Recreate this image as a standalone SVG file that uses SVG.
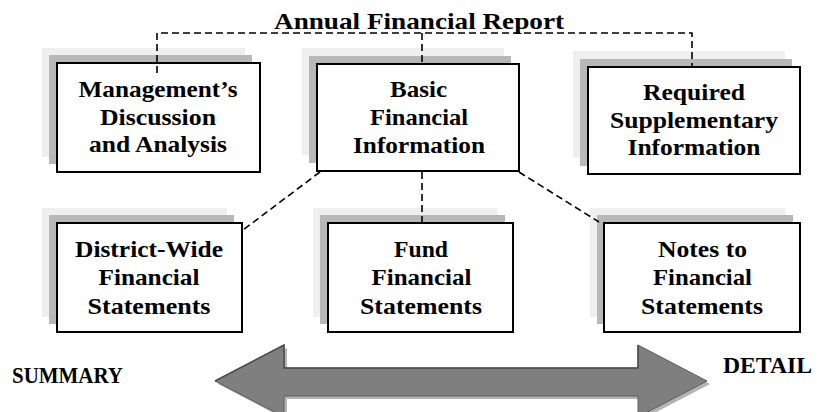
<svg xmlns="http://www.w3.org/2000/svg" width="817" height="412" viewBox="0 0 817 412">
<style>
  .t{font-family:"Liberation Serif","Times New Roman",serif;font-weight:bold;font-size:23px;fill:#000;text-anchor:middle}
  .lbl{font-family:"Liberation Serif","Times New Roman",serif;font-weight:bold;font-size:23px;fill:#000}
  .box{fill:#fff;stroke:#000;stroke-width:2}
  .sh1{fill:#efefef}
  .sh2{fill:#b8b8b8}
  .dash{fill:none;stroke:#000;stroke-width:1.6;stroke-dasharray:7 4}
</style>
<rect width="817" height="412" fill="#fff"/>

<text class="lbl" x="274" y="29" textLength="290" lengthAdjust="spacingAndGlyphs" style="font-size:24px">Annual Financial Report</text>

<g id="mda">
  <rect class="sh1" x="42" y="48" width="203" height="109"/>
  <rect class="sh2" x="49" y="55" width="203" height="109"/>
  <rect class="box" x="57" y="63" width="203" height="109"/>
  <text class="t" x="158" y="97" textLength="159" lengthAdjust="spacingAndGlyphs">Management’s</text>
  <text class="t" x="158" y="124.5" textLength="116" lengthAdjust="spacingAndGlyphs">Discussion</text>
  <text class="t" x="158" y="152" textLength="138" lengthAdjust="spacingAndGlyphs">and Analysis</text>
</g>

<g id="basic">
  <rect class="sh1" x="302" y="48" width="202" height="107"/>
  <rect class="sh2" x="309" y="56" width="202" height="107"/>
  <rect class="box" x="317" y="64" width="202" height="107"/>
  <text class="t" x="418.5" y="97" textLength="57" lengthAdjust="spacingAndGlyphs">Basic</text>
  <text class="t" x="419" y="125" textLength="98" lengthAdjust="spacingAndGlyphs">Financial</text>
  <text class="t" x="419" y="153" textLength="132" lengthAdjust="spacingAndGlyphs">Information</text>
</g>

<g id="rsi">
  <rect class="sh1" x="573" y="51" width="212" height="107"/>
  <rect class="sh2" x="580" y="59" width="212" height="107"/>
  <rect class="box" x="588" y="67" width="212" height="107"/>
  <text class="t" x="694" y="99.5" textLength="102" lengthAdjust="spacingAndGlyphs">Required</text>
  <text class="t" x="694" y="127.5" textLength="168" lengthAdjust="spacingAndGlyphs">Supplementary</text>
  <text class="t" x="694" y="155" textLength="133" lengthAdjust="spacingAndGlyphs">Information</text>
</g>

<g id="district">
  <rect class="sh1" x="42" y="208" width="185" height="109"/>
  <rect class="sh2" x="49" y="215" width="185" height="109"/>
  <rect class="box" x="57" y="223" width="185" height="109"/>
  <text class="t" x="149" y="257" textLength="148" lengthAdjust="spacingAndGlyphs">District-Wide</text>
  <text class="t" x="149" y="285" textLength="101" lengthAdjust="spacingAndGlyphs">Financial</text>
  <text class="t" x="149" y="314" textLength="123" lengthAdjust="spacingAndGlyphs">Statements</text>
</g>

<g id="fund">
  <rect class="sh1" x="313" y="208" width="185" height="109"/>
  <rect class="sh2" x="320" y="215" width="185" height="109"/>
  <rect class="box" x="328" y="223" width="185" height="109"/>
  <text class="t" x="421" y="257" textLength="54" lengthAdjust="spacingAndGlyphs">Fund</text>
  <text class="t" x="421.5" y="285" textLength="100" lengthAdjust="spacingAndGlyphs">Financial</text>
  <text class="t" x="421" y="314" textLength="122" lengthAdjust="spacingAndGlyphs">Statements</text>
</g>

<g id="notes">
  <rect class="sh1" x="590" y="208" width="196" height="109"/>
  <rect class="sh2" x="597" y="215" width="196" height="109"/>
  <rect class="box" x="604" y="223" width="196" height="109"/>
  <text class="t" x="702.5" y="257" textLength="89" lengthAdjust="spacingAndGlyphs">Notes to</text>
  <text class="t" x="702.5" y="285" textLength="99" lengthAdjust="spacingAndGlyphs">Financial</text>
  <text class="t" x="702" y="314" textLength="122" lengthAdjust="spacingAndGlyphs">Statements</text>
</g>

<g id="connectors">
  <path class="dash" d="M157,73 V33 H692 V67"/>
  <path class="dash" d="M422,33 V64"/>
  <path class="dash" d="M422,172 V223"/>
  <path class="dash" d="M320,172 L243,230"/>
  <path class="dash" d="M519,172 L599,222"/>
</g>

<g id="range-arrow">
  <polygon points="218,384 287,348 287,371 641,371 641,348 710,384 641,420 641,399 287,399 287,420" fill="#b3b3b3"/>
  <polygon points="215,381 284,345 284,368 638,368 638,345 707,381 638,417 638,396 284,396 284,417" fill="#7f7f7f" stroke="#5e5e5e" stroke-width="1"/>
  <polyline points="215,381 284,345 284,368 638,368 638,345" fill="none" stroke="#4d4d4d" stroke-width="1.5"/>
</g>

<text class="lbl" x="12" y="383" textLength="111" lengthAdjust="spacingAndGlyphs">SUMMARY</text>
<text class="lbl" x="723" y="373" textLength="89" lengthAdjust="spacingAndGlyphs">DETAIL</text>
</svg>
